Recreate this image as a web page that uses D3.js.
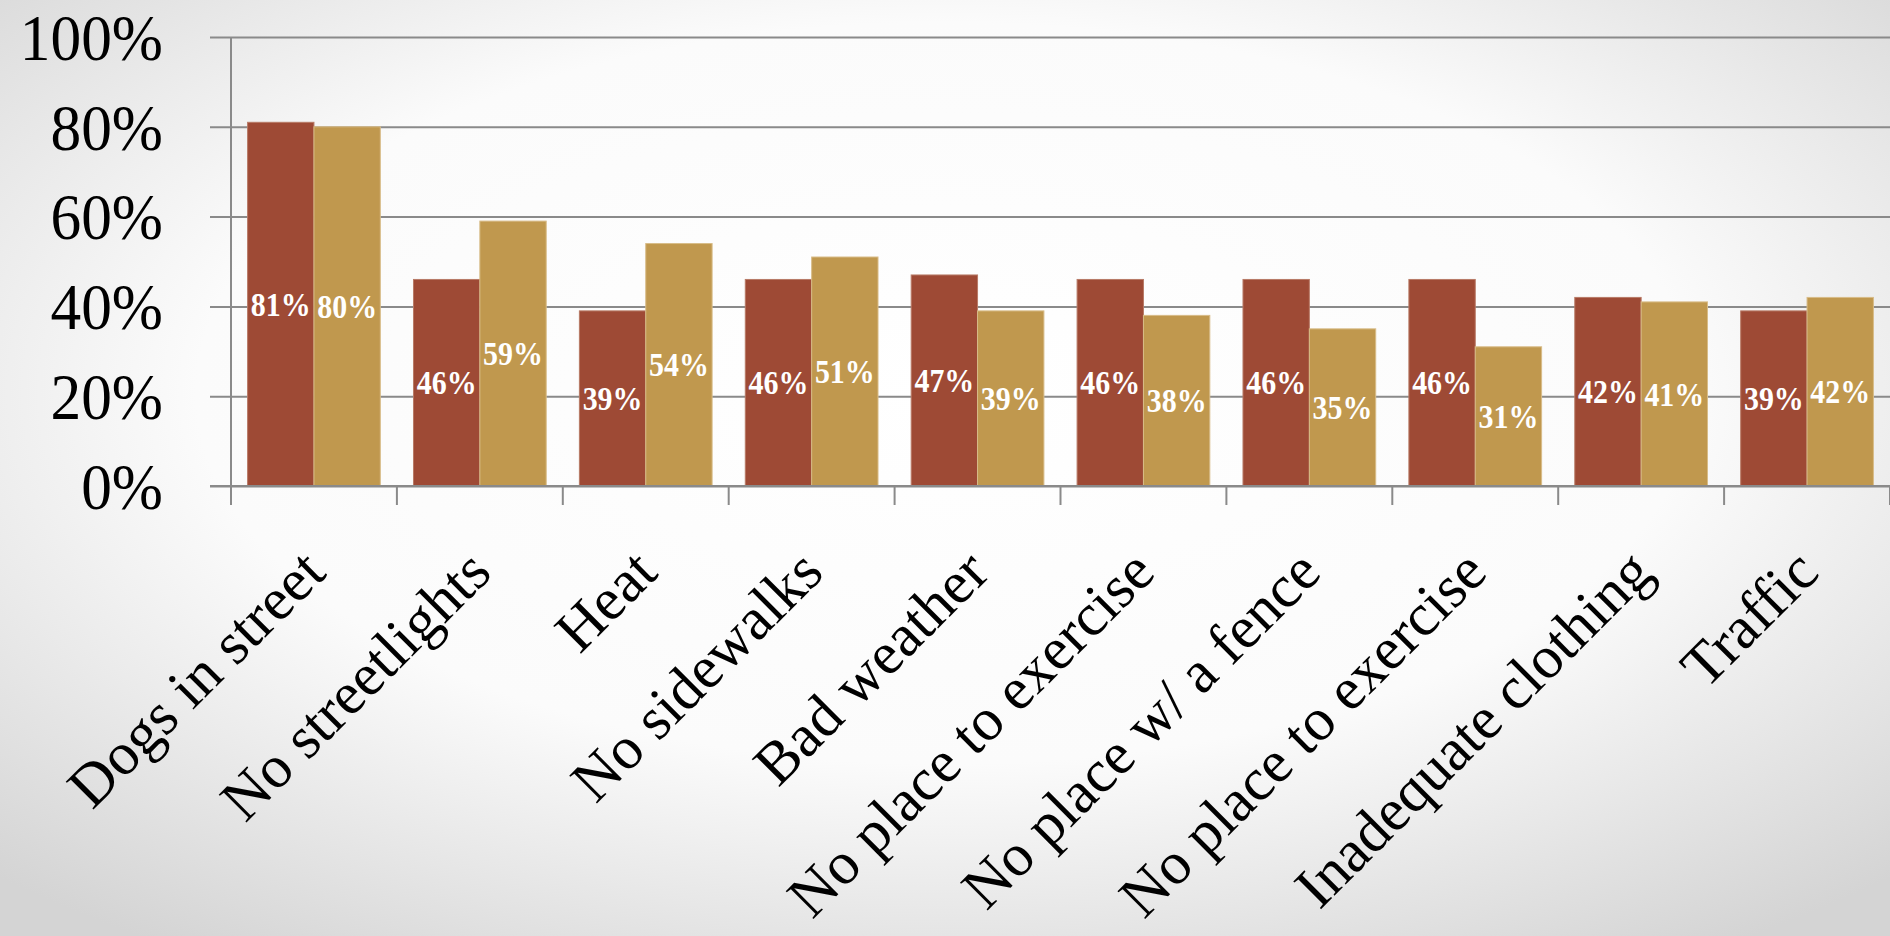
<!DOCTYPE html>
<html>
<head>
<meta charset="utf-8">
<script src="https://cdn.jsdelivr.net/npm/d3@7"></script>
<style>
  html, body { margin: 0; padding: 0; overflow: hidden; }
  svg { display: block; }
</style>
</head>
<body>
<svg id="chart" width="1890" height="936"></svg>
<script>
const categories = ["Dogs in street", "No streetlights", "Heat", "No sidewalks", "Bad weather",
  "No place to exercise", "No place w/ a fence", "No place to exercise", "Inadequate clothing", "Traffic"];
const seriesNames = ["Series A", "Series B"];
const seriesA = [81, 46, 39, 46, 47, 46, 46, 46, 42, 39];
const seriesB = [80, 59, 54, 51, 39, 38, 35, 31, 41, 42];
const yTicks = [0, 20, 40, 60, 80, 100];
const colors = ["#9E4A35", "#C0984E"];
const strokeColors = ["#B87A66", "#D8BC88"];

const W = 1890, H = 936;
const margin = { left: 231, right: 0, top: 37, bottom: 450 };
const plotBottom = 486;

const svg = d3.select("#chart");
const defs = svg.append("defs");
const grad = defs.append("radialGradient").attr("id", "bg")
  .attr("cx", "50%").attr("cy", "42%").attr("r", "72%");
grad.append("stop").attr("offset", "0%").attr("stop-color", "#ffffff");
grad.append("stop").attr("offset", "55%").attr("stop-color", "#fbfbfb");
grad.append("stop").attr("offset", "100%").attr("stop-color", "#d4d4d4");
svg.append("rect").attr("width", W).attr("height", H).attr("fill", "url(#bg)");

const keys = categories.map((c, i) => i);
const x0 = d3.scaleBand().domain(keys).range([margin.left, W - margin.right])
  .paddingInner(0.2).paddingOuter(0.1);
const x1 = d3.scaleBand().domain(seriesNames).range([0, x0.bandwidth()]);
const y = d3.scaleLinear().domain([0, 100]).range([plotBottom, margin.top]);

// gridlines + y axis
const yAxis = d3.axisLeft(y).tickValues(yTicks).tickFormat(d => d + "%")
  .tickSize(-(W - margin.right - margin.left)).tickSizeOuter(0);
const gy = svg.append("g").attr("transform", `translate(${margin.left},0)`).call(yAxis);
gy.select(".domain").remove();
gy.selectAll(".tick line").attr("x1", -21).attr("stroke", "#8a8a8a").attr("stroke-width", 2);
gy.selectAll(".tick text")
  .attr("x", null).attr("dy", null)
  .attr("transform", "translate(-68,0) scale(0.93,1)")
  .attr("text-anchor", "end")
  .attr("dominant-baseline", "central")
  .attr("font-family", "'Liberation Serif', 'Times New Roman', serif")
  .attr("font-size", 66).attr("fill", "#000");

// vertical axis line
svg.append("line").attr("x1", margin.left).attr("x2", margin.left)
  .attr("y1", y(100)).attr("y2", plotBottom + 19)
  .attr("stroke", "#8a8a8a").attr("stroke-width", 2);

// bars
const groups = svg.append("g").selectAll("g").data(keys).join("g")
  .attr("transform", d => `translate(${x0(d)},0)`);
const vals = [seriesA, seriesB];
groups.selectAll("rect").data(i => seriesNames.map((s, k) => ({ s, k, v: vals[k][i] })))
  .join("rect")
  .attr("x", d => x1(d.s)).attr("width", x1.bandwidth())
  .attr("y", d => y(d.v)).attr("height", d => y(0) - y(d.v))
  .attr("fill", d => colors[d.k])
  .attr("stroke", d => strokeColors[d.k]).attr("stroke-width", 1);

groups.selectAll("text.val").data(i => seriesNames.map((s, k) => ({ s, k, v: vals[k][i] })))
  .join("text").attr("class", "val")
  .attr("transform", d => `translate(${x1(d.s) + x1.bandwidth() / 2},${(y(d.v) + y(0)) / 2}) scale(0.88,1)`)
  .attr("text-anchor", "middle").attr("dominant-baseline", "central")
  .attr("font-family", "'Liberation Serif', 'Times New Roman', serif")
  .attr("font-weight", "bold").attr("font-size", 34).attr("fill", "#fff")
  .text(d => d.v + "%");

// x axis
const xAxis = d3.axisBottom(x0).tickFormat(i => categories[i]).tickSize(0).tickSizeOuter(0);
const gx = svg.append("g").attr("transform", `translate(0,${plotBottom})`).call(xAxis);
gx.select(".domain").attr("stroke", "#8a8a8a").attr("stroke-width", 2)
  .attr("d", `M${margin.left - 21},0H${W}`);
gx.selectAll(".tick line").remove();
gx.selectAll(".tick text")
  .attr("y", null).attr("dy", null)
  .attr("transform", "translate(14,89) rotate(-45)")
  .attr("text-anchor", "end")
  .attr("font-family", "'Liberation Serif', 'Times New Roman', serif")
  .attr("font-size", 60).attr("fill", "#000");

// category boundary ticks
const step = x0.step();
const bounds = keys.map(i => x0(i) - (step - x0.bandwidth()) / 2).concat([W - margin.right]);
svg.append("g").selectAll("line").data(bounds).join("line")
  .attr("x1", d => d).attr("x2", d => d)
  .attr("y1", plotBottom).attr("y2", plotBottom + 19)
  .attr("stroke", "#8a8a8a").attr("stroke-width", 2);
</script>
</body>
</html>
